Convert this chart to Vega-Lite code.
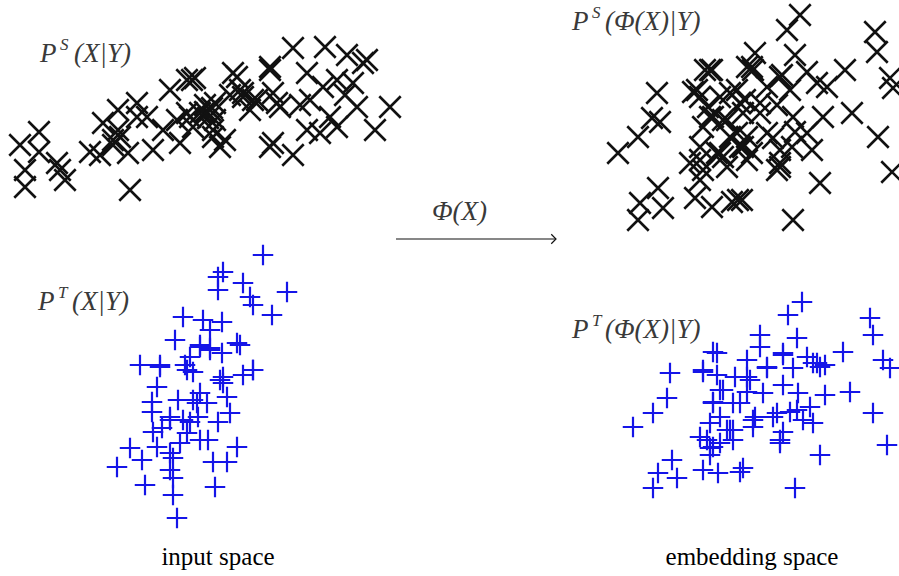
{
  "$schema": "https://vega.github.io/schema/vega-lite/v6.json",
  "autosize": {"type": "none"},
  "width": 899,
  "height": 576,
  "padding": 0,
  "background": "white",
  "config": {"view": {"stroke": null}},
  "datasets": {
    "pts": [
      {"x":20,"y":145,"g":"S"},{"x":39,"y":132,"g":"S"},{"x":39,"y":152,"g":"S"},{"x":25,"y":170,"g":"S"},{"x":25,"y":187,"g":"S"},{"x":60,"y":170,"g":"S"},{"x":65,"y":180,"g":"S"},{"x":57,"y":163,"g":"S"},{"x":90,"y":152,"g":"S"},{"x":100,"y":155,"g":"S"},{"x":103,"y":123,"g":"S"},{"x":113,"y":145,"g":"S"},{"x":118,"y":110,"g":"S"},{"x":137,"y":103,"g":"S"},{"x":130,"y":190,"g":"S"},{"x":128,"y":153,"g":"S"},{"x":153,"y":150,"g":"S"},{"x":147,"y":117,"g":"S"},{"x":137,"y":117,"g":"S"},{"x":163,"y":130,"g":"S"},{"x":170,"y":90,"g":"S"},{"x":180,"y":143,"g":"S"},{"x":192,"y":80,"g":"S"},{"x":187,"y":113,"g":"S"},{"x":193,"y":127,"g":"S"},{"x":120,"y":137,"g":"S"},{"x":113,"y":140,"g":"S"},{"x":195,"y":78,"g":"S"},{"x":210,"y":110,"g":"S"},{"x":200,"y":113,"g":"S"},{"x":220,"y":147,"g":"S"},{"x":213,"y":137,"g":"S"},{"x":237,"y":77,"g":"S"},{"x":243,"y":97,"g":"S"},{"x":257,"y":100,"g":"S"},{"x":270,"y":70,"g":"S"},{"x":277,"y":103,"g":"S"},{"x":273,"y":143,"g":"S"},{"x":293,"y":48,"g":"S"},{"x":293,"y":155,"g":"S"},{"x":307,"y":73,"g":"S"},{"x":310,"y":100,"g":"S"},{"x":307,"y":130,"g":"S"},{"x":320,"y":133,"g":"S"},{"x":325,"y":47,"g":"S"},{"x":323,"y":87,"g":"S"},{"x":337,"y":80,"g":"S"},{"x":337,"y":127,"g":"S"},{"x":347,"y":55,"g":"S"},{"x":353,"y":83,"g":"S"},{"x":363,"y":63,"g":"S"},{"x":367,"y":60,"g":"S"},{"x":357,"y":107,"g":"S"},{"x":375,"y":130,"g":"S"},{"x":390,"y":107,"g":"S"},{"x":240,"y":90,"g":"S"},{"x":250,"y":110,"g":"S"},{"x":330,"y":117,"g":"S"},{"x":205,"y":105,"g":"S"},{"x":215,"y":120,"g":"S"},{"x":230,"y":95,"g":"S"},{"x":118,"y":130,"g":"S"},{"x":225,"y":140,"g":"S"},{"x":300,"y":105,"g":"S"},{"x":345,"y":95,"g":"S"},
      {"x":205,"y":112,"g":"S"},{"x":212,"y":108,"g":"S"},{"x":208,"y":118,"g":"S"},{"x":215,"y":103,"g":"S"},{"x":243,"y":93,"g":"S"},{"x":253,"y":100,"g":"S"},{"x":233,"y":73,"g":"S"},{"x":270,"y":67,"g":"S"},{"x":273,"y":93,"g":"S"},{"x":280,"y":107,"g":"S"},{"x":270,"y":147,"g":"S"},{"x":187,"y":80,"g":"S"},{"x":177,"y":120,"g":"S"},{"x":213,"y":130,"g":"S"},{"x":190,"y":117,"g":"S"},
      {"x":657,"y":93,"g":"S"},{"x":652,"y":118,"g":"S"},{"x":660,"y":122,"g":"S"},{"x":638,"y":137,"g":"S"},{"x":618,"y":153,"g":"S"},{"x":658,"y":188,"g":"S"},{"x":640,"y":203,"g":"S"},{"x":663,"y":208,"g":"S"},{"x":638,"y":220,"g":"S"},{"x":695,"y":198,"g":"S"},{"x":712,"y":207,"g":"S"},{"x":732,"y":202,"g":"S"},{"x":738,"y":200,"g":"S"},{"x":705,"y":70,"g":"S"},{"x":712,"y":70,"g":"S"},{"x":693,"y":92,"g":"S"},{"x":700,"y":97,"g":"S"},{"x":708,"y":107,"g":"S"},{"x":730,"y":93,"g":"S"},{"x":740,"y":103,"g":"S"},{"x":713,"y":117,"g":"S"},{"x":727,"y":120,"g":"S"},{"x":703,"y":127,"g":"S"},{"x":737,"y":133,"g":"S"},{"x":700,"y":147,"g":"S"},{"x":720,"y":153,"g":"S"},{"x":723,"y":157,"g":"S"},{"x":690,"y":163,"g":"S"},{"x":703,"y":170,"g":"S"},{"x":727,"y":167,"g":"S"},{"x":700,"y":180,"g":"S"},{"x":743,"y":147,"g":"S"},{"x":747,"y":67,"g":"S"},{"x":800,"y":15,"g":"S"},{"x":787,"y":30,"g":"S"},{"x":875,"y":32,"g":"S"},{"x":877,"y":52,"g":"S"},{"x":755,"y":53,"g":"S"},{"x":795,"y":55,"g":"S"},{"x":752,"y":67,"g":"S"},{"x":782,"y":75,"g":"S"},{"x":807,"y":72,"g":"S"},{"x":817,"y":83,"g":"S"},{"x":827,"y":87,"g":"S"},{"x":845,"y":70,"g":"S"},{"x":890,"y":78,"g":"S"},{"x":893,"y":88,"g":"S"},{"x":790,"y":90,"g":"S"},{"x":767,"y":87,"g":"S"},{"x":745,"y":100,"g":"S"},{"x":760,"y":113,"g":"S"},{"x":777,"y":105,"g":"S"},{"x":823,"y":117,"g":"S"},{"x":852,"y":113,"g":"S"},{"x":793,"y":117,"g":"S"},{"x":747,"y":137,"g":"S"},{"x":773,"y":138,"g":"S"},{"x":795,"y":132,"g":"S"},{"x":807,"y":133,"g":"S"},{"x":792,"y":147,"g":"S"},{"x":812,"y":150,"g":"S"},{"x":752,"y":153,"g":"S"},{"x":780,"y":163,"g":"S"},{"x":777,"y":170,"g":"S"},{"x":878,"y":137,"g":"S"},{"x":892,"y":172,"g":"S"},{"x":820,"y":183,"g":"S"},{"x":793,"y":220,"g":"S"},{"x":742,"y":200,"g":"S"},
      {"x":710,"y":70,"g":"S"},{"x":697,"y":90,"g":"S"},{"x":720,"y":97,"g":"S"},{"x":737,"y":90,"g":"S"},{"x":753,"y":70,"g":"S"},{"x":780,"y":77,"g":"S"},{"x":710,"y":117,"g":"S"},{"x":723,"y":120,"g":"S"},{"x":743,"y":113,"g":"S"},{"x":760,"y":103,"g":"S"},{"x":767,"y":133,"g":"S"},{"x":730,"y":137,"g":"S"},{"x":700,"y":160,"g":"S"},{"x":717,"y":153,"g":"S"},{"x":740,"y":147,"g":"S"},{"x":780,"y":150,"g":"S"},{"x":780,"y":167,"g":"S"},{"x":747,"y":160,"g":"S"},
      {"x":263,"y":255,"g":"T"},{"x":223,"y":272,"g":"T"},{"x":218,"y":277,"g":"T"},{"x":218,"y":290,"g":"T"},{"x":243,"y":283,"g":"T"},{"x":250,"y":297,"g":"T"},{"x":253,"y":305,"g":"T"},{"x":287,"y":292,"g":"T"},{"x":272,"y":315,"g":"T"},{"x":183,"y":317,"g":"T"},{"x":203,"y":320,"g":"T"},{"x":222,"y":322,"g":"T"},{"x":210,"y":330,"g":"T"},{"x":175,"y":340,"g":"T"},{"x":200,"y":345,"g":"T"},{"x":210,"y":348,"g":"T"},{"x":222,"y":353,"g":"T"},{"x":240,"y":345,"g":"T"},{"x":140,"y":365,"g":"T"},{"x":160,"y":365,"g":"T"},{"x":185,"y":365,"g":"T"},{"x":193,"y":372,"g":"T"},{"x":223,"y":377,"g":"T"},{"x":223,"y":383,"g":"T"},{"x":253,"y":370,"g":"T"},{"x":243,"y":375,"g":"T"},{"x":157,"y":387,"g":"T"},{"x":178,"y":400,"g":"T"},{"x":200,"y":393,"g":"T"},{"x":207,"y":403,"g":"T"},{"x":227,"y":397,"g":"T"},{"x":152,"y":402,"g":"T"},{"x":230,"y":413,"g":"T"},{"x":152,"y":412,"g":"T"},{"x":170,"y":420,"g":"T"},{"x":190,"y":422,"g":"T"},{"x":198,"y":417,"g":"T"},{"x":218,"y":422,"g":"T"},{"x":153,"y":432,"g":"T"},{"x":162,"y":428,"g":"T"},{"x":187,"y":433,"g":"T"},{"x":200,"y":440,"g":"T"},{"x":208,"y":440,"g":"T"},{"x":180,"y":443,"g":"T"},{"x":237,"y":447,"g":"T"},{"x":130,"y":448,"g":"T"},{"x":157,"y":447,"g":"T"},{"x":170,"y":453,"g":"T"},{"x":142,"y":460,"g":"T"},{"x":173,"y":458,"g":"T"},{"x":117,"y":467,"g":"T"},{"x":213,"y":462,"g":"T"},{"x":227,"y":462,"g":"T"},{"x":170,"y":470,"g":"T"},{"x":145,"y":485,"g":"T"},{"x":173,"y":478,"g":"T"},{"x":215,"y":487,"g":"T"},{"x":173,"y":495,"g":"T"},{"x":177,"y":518,"g":"T"},{"x":197,"y":403,"g":"T"},{"x":190,"y":357,"g":"T"},
      {"x":210,"y":350,"g":"T"},{"x":200,"y":347,"g":"T"},{"x":220,"y":380,"g":"T"},{"x":253,"y":370,"g":"T"},{"x":187,"y":370,"g":"T"},{"x":193,"y":400,"g":"T"},{"x":170,"y":417,"g":"T"},{"x":183,"y":420,"g":"T"},{"x":237,"y":343,"g":"T"},{"x":160,"y":367,"g":"T"},
      {"x":802,"y":302,"g":"T"},{"x":788,"y":315,"g":"T"},{"x":870,"y":318,"g":"T"},{"x":873,"y":335,"g":"T"},{"x":760,"y":335,"g":"T"},{"x":797,"y":338,"g":"T"},{"x":760,"y":347,"g":"T"},{"x":843,"y":352,"g":"T"},{"x":713,"y":352,"g":"T"},{"x":783,"y":355,"g":"T"},{"x":807,"y":357,"g":"T"},{"x":817,"y":363,"g":"T"},{"x":825,"y":365,"g":"T"},{"x":883,"y":360,"g":"T"},{"x":890,"y":368,"g":"T"},{"x":670,"y":373,"g":"T"},{"x":703,"y":372,"g":"T"},{"x":717,"y":375,"g":"T"},{"x":747,"y":360,"g":"T"},{"x":767,"y":368,"g":"T"},{"x":793,"y":368,"g":"T"},{"x":735,"y":377,"g":"T"},{"x":750,"y":380,"g":"T"},{"x":723,"y":390,"g":"T"},{"x":747,"y":392,"g":"T"},{"x":783,"y":385,"g":"T"},{"x":798,"y":393,"g":"T"},{"x":825,"y":395,"g":"T"},{"x":850,"y":392,"g":"T"},{"x":667,"y":398,"g":"T"},{"x":653,"y":413,"g":"T"},{"x":633,"y":427,"g":"T"},{"x":713,"y":402,"g":"T"},{"x":733,"y":403,"g":"T"},{"x":763,"y":393,"g":"T"},{"x":720,"y":417,"g":"T"},{"x":755,"y":417,"g":"T"},{"x":773,"y":417,"g":"T"},{"x":790,"y":412,"g":"T"},{"x":803,"y":420,"g":"T"},{"x":810,"y":407,"g":"T"},{"x":873,"y":413,"g":"T"},{"x":710,"y":423,"g":"T"},{"x":730,"y":430,"g":"T"},{"x":753,"y":427,"g":"T"},{"x":733,"y":440,"g":"T"},{"x":700,"y":437,"g":"T"},{"x":783,"y":432,"g":"T"},{"x":813,"y":423,"g":"T"},{"x":887,"y":445,"g":"T"},{"x":820,"y":455,"g":"T"},{"x":780,"y":443,"g":"T"},{"x":710,"y":448,"g":"T"},{"x":720,"y":443,"g":"T"},{"x":710,"y":455,"g":"T"},{"x":672,"y":460,"g":"T"},{"x":658,"y":473,"g":"T"},{"x":677,"y":478,"g":"T"},{"x":703,"y":470,"g":"T"},{"x":718,"y":473,"g":"T"},{"x":740,"y":472,"g":"T"},{"x":743,"y":468,"g":"T"},{"x":653,"y":488,"g":"T"},{"x":795,"y":488,"g":"T"},
      {"x":717,"y":353,"g":"T"},{"x":703,"y":370,"g":"T"},{"x":720,"y":390,"g":"T"},{"x":747,"y":377,"g":"T"},{"x":767,"y":367,"g":"T"},{"x":783,"y":353,"g":"T"},{"x":813,"y":363,"g":"T"},{"x":820,"y":367,"g":"T"},{"x":713,"y":403,"g":"T"},{"x":740,"y":403,"g":"T"},{"x":753,"y":420,"g":"T"},{"x":777,"y":413,"g":"T"},{"x":797,"y":410,"g":"T"},{"x":727,"y":430,"g":"T"},{"x":707,"y":440,"g":"T"},{"x":713,"y":447,"g":"T"},{"x":733,"y":430,"g":"T"},{"x":780,"y":440,"g":"T"}
    ],
    "main": [
      {"x":40,"y":62,"t":"P"},{"x":74,"y":62,"t":"(X|Y)"},
      {"x":38,"y":310,"t":"P"},{"x":72,"y":310,"t":"(X|Y)"},
      {"x":572,"y":30,"t":"P"},{"x":605,"y":30,"t":"(Φ(X)|Y)"},
      {"x":572,"y":338,"t":"P"},{"x":605,"y":338,"t":"(Φ(X)|Y)"},
      {"x":432,"y":220,"t":"Φ(X)"}
    ],
    "sup": [
      {"x":60,"y":50,"t":"S"},
      {"x":58,"y":298,"t":"T"},
      {"x":592,"y":18,"t":"S"},
      {"x":592,"y":326,"t":"T"}
    ],
    "caption": [
      {"x":218,"y":565,"t":"input space"},
      {"x":752,"y":565,"t":"embedding space"}
    ],
    "arrow": [{"x":396,"x2":556,"y":239}]
  },
  "encoding": {
    "x": {"field":"x","type":"quantitative","scale":{"domain":[0,899],"nice":false,"zero":false},"axis":null},
    "y": {"field":"y","type":"quantitative","scale":{"domain":[0,576],"nice":false,"zero":false,"reverse":true},"axis":null}
  },
  "layer": [
    {
      "data": {"name":"pts"},
      "mark": {"type":"point","filled":false,"opacity":1},
      "encoding": {
        "shape": {"field":"g","type":"nominal","scale":{"domain":["S","T"],"range":["M-1,-1L1,1M-1,1L1,-1","M-1,0L1,0M0,-1L0,1"]},"legend":null},
        "color": {"field":"g","type":"nominal","scale":{"domain":["S","T"],"range":["#111111","#1515e8"]},"legend":null},
        "size": {"field":"g","type":"nominal","scale":{"domain":["S","T"],"range":[460,420]},"legend":null},
        "strokeWidth": {"field":"g","type":"nominal","scale":{"domain":["S","T"],"range":[2.6,2.2]},"legend":null}
      }
    },
    {
      "data": {"name":"arrow"},
      "mark": {"type":"rule","color":"#111111","strokeWidth":1.2},
      "encoding": {"x2": {"field":"x2"}}
    },
    {
      "data": {"name":"arrow"},
      "mark": {"type":"point","filled":false,"opacity":1,"color":"#111111","strokeWidth":1.2,"shape":"M-1,-1L0,0L-1,1","size":90},
      "encoding": {"x": {"field":"x2","type":"quantitative"}}
    },
    {
      "data": {"name":"main"},
      "mark": {"type":"text","align":"left","baseline":"alphabetic","font":"Liberation Serif","fontStyle":"italic","fontSize":27,"color":"#3a3a3a"},
      "encoding": {"text": {"field":"t"}}
    },
    {
      "data": {"name":"sup"},
      "mark": {"type":"text","align":"left","baseline":"alphabetic","font":"Liberation Serif","fontStyle":"italic","fontSize":17,"color":"#3a3a3a"},
      "encoding": {"text": {"field":"t"}}
    },
    {
      "data": {"name":"caption"},
      "mark": {"type":"text","align":"center","baseline":"alphabetic","font":"Liberation Serif","fontSize":25,"color":"#000000"},
      "encoding": {"text": {"field":"t"}}
    }
  ]
}
